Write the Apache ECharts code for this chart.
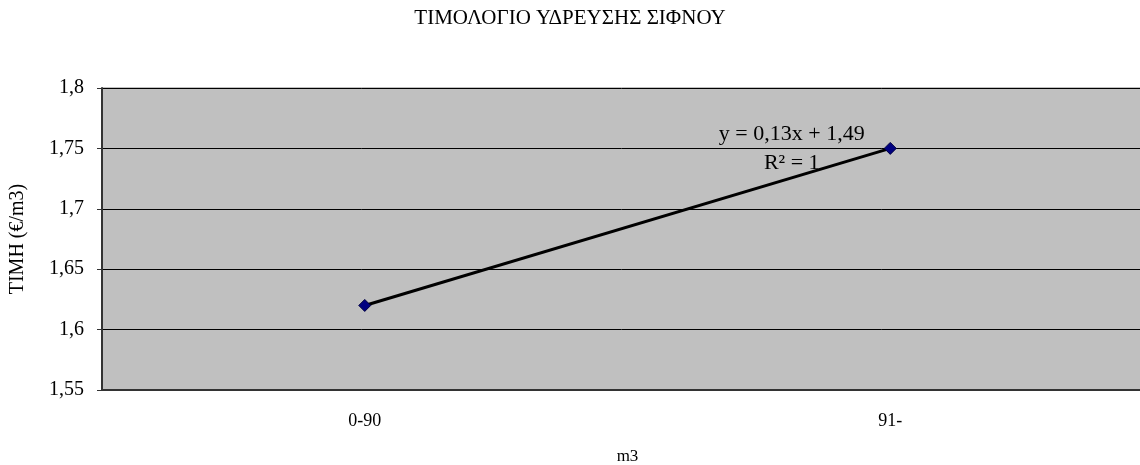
<!DOCTYPE html>
<html>
<head>
<meta charset="utf-8">
<script src="https://cdn.jsdelivr.net/npm/echarts@6/dist/echarts.min.js"></script>
<style>
  html, body { margin: 0; padding: 0; background: #ffffff; }
  #chart { width: 1140px; height: 465px; }
</style>
</head>
<body>
<div id="chart"></div>
<script>
// Water tariff per consumption band (€/m3)
const categories = ['0-90', '91-'];
const prices = [1.62, 1.75];
const trendText = ['y = 0,13x + 1,49', 'R² = 1'];
const yMin = 1.55, yMax = 1.8, yStep = 0.05;

const serif = '"Liberation Serif", "DejaVu Serif", serif';
const fmt = v => String(Math.round(v * 100) / 100).replace('.', ',');

const chart = echarts.init(document.getElementById('chart'), null, { renderer: 'canvas' });
chart.setOption({
  animation: false,
  backgroundColor: '#ffffff',
  title: {
    text: 'ΤΙΜΟΛΟΓΙΟ ΥΔΡΕΥΣΗΣ ΣΙΦΝΟΥ',
    left: 'center',
    top: 3,
    textStyle: { fontFamily: serif, fontWeight: 'normal', fontSize: 21, color: '#000' }
  },
  grid: { left: 102, right: -13, top: 88, bottom: 75, show: true,
          containLabel: false, outerBoundsMode: 'none',
          backgroundColor: '#c0c0c0', borderColor: '#808080', borderWidth: 1 },
  xAxis: {
    type: 'category',
    data: categories,
    boundaryGap: true,
    name: 'm3',
    nameLocation: 'middle',
    nameGap: 58,
    nameTextStyle: { fontFamily: serif, fontSize: 17, color: '#000' },
    axisLine: { lineStyle: { color: '#333', width: 2 } },
    axisTick: { length: 5, lineStyle: { color: '#333' } },
    axisLabel: { fontFamily: serif, fontSize: 18, color: '#000', margin: 22 }
  },
  yAxis: {
    type: 'value',
    min: yMin, max: yMax, interval: yStep,
    name: 'ΤΙΜΗ (€/m3)',
    nameLocation: 'middle',
    nameGap: 74,
    nameTextStyle: { fontFamily: serif, fontSize: 20, color: '#000' },
    axisLine: { show: true, lineStyle: { color: '#333', width: 2 } },
    axisTick: { show: true, length: 5, lineStyle: { color: '#333' } },
    axisLabel: { fontFamily: serif, fontSize: 20, color: '#000', margin: 18, formatter: fmt },
    splitLine: { lineStyle: { color: '#000', width: 1 } }
  },
  series: [{
    type: 'line',
    data: prices,
    symbol: 'diamond',
    symbolSize: 12,
    itemStyle: { color: '#000080', borderColor: '#000040', borderWidth: 1 },
    lineStyle: { color: '#000', width: 3 },
    label: {
      show: true,
      formatter: p => p.dataIndex === prices.length - 1 ? trendText.join('\n') : '',
      position: 'left',
      align: 'center',
      distance: 0,
      fontFamily: serif,
      fontSize: 22,
      lineHeight: 29,
      color: '#000'
    },
    labelLayout: p => p.dataIndex === prices.length - 1 ? { dx: -92, dy: 0 } : {}
  }]
});
</script>
</body>
</html>
